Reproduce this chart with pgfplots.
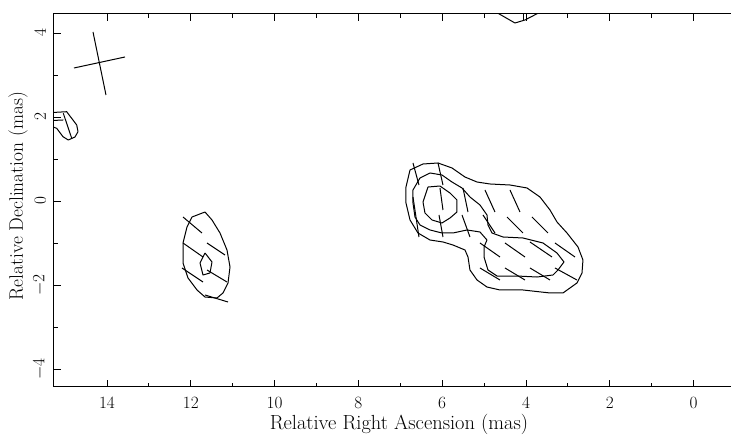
\documentclass[border=0pt]{standalone}
\usepackage{pgfplots}
\pgfplotsset{compat=1.18}
\tikzset{ct/.style={black, line width=1bp, mark=none, line join=round}}
\begin{document}
\begin{tikzpicture}
\begin{axis}[
  x=41.9bp, y=42bp,
  x dir=reverse,
  xmin=-1.2, xmax=15.265, ymin=-4.417, ymax=4.464,
  xtick={0,2,...,14}, ytick={-4,-2,...,4},
  minor x tick num=1, minor y tick num=1,
  major tick length=7bp, minor tick length=4bp,
  tick style={black, line width=0.9bp},
  axis line style={line width=1bp},
  tick label style={font=\fontsize{18.5}{22}\selectfont, inner sep=0pt},
  xticklabel shift=11bp,
  yticklabel shift=8bp,
  yticklabel style={rotate=90, anchor=south},
  label style={inner sep=0pt},
  xlabel={Relative Right Ascension (mas)},
  ylabel={Relative Declination (mas)},
  xlabel style={font=\fontsize{20.5}{24}\selectfont, at={(axis description cs:0.5,-0.1019)}, anchor=center},
  ylabel style={font=\fontsize{19.5}{23}\selectfont, at={(axis description cs:-0.0522,0.51)}, anchor=center},
]
% main component: outer contour
\addplot[ct] coordinates {(6.768,0.738) (6.458,0.881) (6.100,0.905) (5.766,0.786) (5.456,0.571) (5.169,0.452) (4.859,0.405) (4.382,0.381) (3.976,0.310) (3.666,0.095) (3.427,-0.214) (3.260,-0.500) (3.021,-0.762) (2.759,-1.095) (2.640,-1.405) (2.663,-1.714) (2.783,-1.952) (3.117,-2.190) (3.427,-2.190) (4.072,-2.119) (4.621,-2.119) (4.931,-2.048) (5.169,-1.881) (5.337,-1.643) (5.384,-1.333) (5.456,-1.167) (5.742,-1.048) (5.981,-0.976) (6.291,-0.929) (6.578,-0.762) (6.768,-0.452) (6.864,-0.048) (6.864,0.333) (6.768,0.738)};
% main component: middle contour
\addplot[ct] coordinates {(6.697,0.262) (6.530,0.548) (6.291,0.667) (6.005,0.619) (5.766,0.452) (5.527,0.310) (5.337,0.095) (5.098,-0.095) (4.931,-0.333) (4.907,-0.571) (4.811,-0.762) (4.549,-0.857) (4.072,-0.881) (3.594,-1.000) (3.260,-1.238) (3.093,-1.452) (3.236,-1.643) (3.356,-1.762) (3.737,-1.810) (4.215,-1.786) (4.692,-1.786) (4.907,-1.643) (5.002,-1.333) (5.002,-1.095) (4.931,-0.929) (5.098,-0.738) (5.408,-0.690) (5.742,-0.762) (6.005,-0.762) (6.291,-0.690) (6.530,-0.571) (6.649,-0.381) (6.697,-0.048) (6.697,0.262)};
% main component: inner contour
\addplot[ct] coordinates {(6.339,0.333) (6.053,0.357) (5.814,0.190) (5.647,0.024) (5.647,-0.262) (5.814,-0.405) (6.005,-0.524) (6.243,-0.452) (6.411,-0.286) (6.458,-0.024) (6.339,0.333)};
% main component: polarization vectors
\addplot[ct] coordinates {(6.697,0.905) (6.554,0.381)};
\addplot[ct] coordinates {(6.697,0.095) (6.554,-0.857)};
\addplot[ct] coordinates {(6.100,0.905) (5.981,0.381)};
\addplot[ct] coordinates {(6.053,0.310) (5.981,-0.214)};
\addplot[ct] coordinates {(6.076,-0.333) (5.981,-0.857)};
\addplot[ct] coordinates {(5.504,0.310) (5.384,-0.262)};
\addplot[ct] coordinates {(5.527,-0.333) (5.337,-0.857)};
\addplot[ct] coordinates {(4.979,0.262) (4.740,-0.262)};
\addplot[ct] coordinates {(4.382,0.262) (4.143,-0.262)};
\addplot[ct] coordinates {(5.026,-0.333) (4.740,-0.762)};
\addplot[ct] coordinates {(4.453,-0.381) (4.072,-0.762)};
\addplot[ct] coordinates {(3.857,-0.381) (3.475,-0.762)};
\addplot[ct] coordinates {(5.098,-1.000) (4.621,-1.333)};
\addplot[ct] coordinates {(4.501,-1.000) (4.024,-1.333)};
\addplot[ct] coordinates {(3.905,-0.976) (3.379,-1.333)};
\addplot[ct] coordinates {(3.308,-1.000) (2.831,-1.333)};
\addplot[ct] coordinates {(5.098,-1.595) (4.621,-1.881)};
\addplot[ct] coordinates {(4.501,-1.595) (4.024,-1.881)};
\addplot[ct] coordinates {(3.905,-1.595) (3.427,-1.881)};
\addplot[ct] coordinates {(3.308,-1.595) (2.783,-1.881)};
% left component
\addplot[ct] coordinates {(11.971,-0.381) (11.661,-0.262) (11.494,-0.452) (11.303,-0.762) (11.136,-1.167) (11.064,-1.571) (11.112,-1.952) (11.232,-2.190) (11.375,-2.310) (11.661,-2.286) (11.852,-2.119) (12.067,-1.833) (12.186,-1.476) (12.186,-1.000) (12.091,-0.619) (11.971,-0.381)};
\addplot[ct] coordinates {(11.661,-1.238) (11.494,-1.452) (11.542,-1.714) (11.709,-1.762) (11.780,-1.476) (11.661,-1.238)};
\addplot[ct] coordinates {(12.186,-0.381) (11.733,-0.762)};
\addplot[ct] coordinates {(11.613,-1.000) (11.184,-1.286)};
\addplot[ct] coordinates {(12.186,-1.000) (11.709,-1.333)};
\addplot[ct] coordinates {(11.613,-1.643) (11.136,-1.929)};
\addplot[ct] coordinates {(12.210,-1.595) (11.709,-1.929)};
\addplot[ct] coordinates {(11.661,-2.238) (11.112,-2.405)};
% small component at the left edge
\addplot[ct] coordinates {(15.4,2.102) (14.962,2.126) (14.723,1.810) (14.692,1.650) (14.764,1.524) (14.924,1.452) (15.050,1.531) (15.200,1.731) (15.4,1.800)};
\addplot[ct] coordinates {(15.4,1.912) (15.043,1.929)};
\addplot[ct] coordinates {(15.043,2.088) (14.842,1.493)};
% component at the top edge
\addplot[ct] coordinates {(4.668,4.47) (4.263,4.238) (4.024,4.310) (3.714,4.47)};
\addplot[ct] coordinates {(4.048,4.47) (4.048,4.310)};
% beam cross
\addplot[ct] coordinates {(14.334,4.024) (14.024,2.524)};
\addplot[ct] coordinates {(14.788,3.167) (13.570,3.429)};
\coordinate (bbll) at (axis cs:16.554,-5.714);
\coordinate (bbur) at (axis cs:-0.893,4.786);
\end{axis}
\pgfresetboundingbox
\path (bbll) rectangle (bbur);
\end{tikzpicture}
\end{document}
